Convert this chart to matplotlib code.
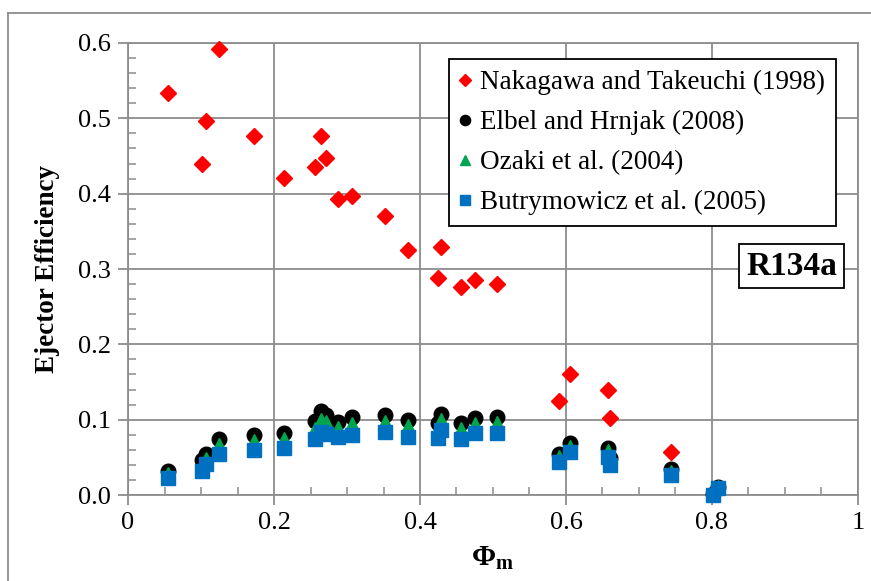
import matplotlib
matplotlib.use("Agg")
import matplotlib.pyplot as plt
from matplotlib.lines import Line2D
from matplotlib.ticker import MultipleLocator, FormatStrFormatter

plt.rcParams["font.family"] = ["Liberation Serif", "DejaVu Serif"]
plt.rcParams["mathtext.fontset"] = "custom"
plt.rcParams["mathtext.rm"] = "Liberation Serif"
plt.rcParams["mathtext.bf"] = "Liberation Serif:bold"

# Nakagawa and Takeuchi (1998)
nak_x = [0.055, 0.101, 0.107, 0.124, 0.173, 0.214, 0.256, 0.265, 0.271, 0.288,
         0.307, 0.352, 0.384, 0.425, 0.429, 0.456, 0.475, 0.505, 0.591, 0.606,
         0.658, 0.660, 0.744]
nak_y = [0.534, 0.440, 0.496, 0.592, 0.477, 0.421, 0.435, 0.476, 0.448, 0.393,
         0.397, 0.370, 0.325, 0.288, 0.329, 0.276, 0.286, 0.280, 0.125, 0.160,
         0.140, 0.102, 0.057]

# the three other data sets share the same phi_m values
phi_x = [0.055, 0.101, 0.107, 0.124, 0.173, 0.214, 0.256, 0.265, 0.271, 0.288,
         0.307, 0.352, 0.384, 0.424, 0.429, 0.456, 0.475, 0.505, 0.591, 0.606,
         0.658, 0.660, 0.744, 0.801, 0.808]
elbel_y = [0.032, 0.046, 0.054, 0.075, 0.080, 0.082, 0.098, 0.111, 0.106, 0.097,
           0.103, 0.106, 0.099, 0.095, 0.108, 0.095, 0.102, 0.104, 0.055, 0.069,
           0.063, 0.049, 0.034, 0.002, 0.011]
ozaki_y = [0.028, 0.040, 0.048, 0.066, 0.072, 0.074, 0.088, 0.100, 0.097, 0.089,
           0.094, 0.097, 0.091, 0.088, 0.099, 0.087, 0.094, 0.095, 0.050, 0.064,
           0.058, 0.045, 0.031, 0.001, 0.010]
butry_y = [0.023, 0.032, 0.041, 0.054, 0.060, 0.063, 0.074, 0.084, 0.081, 0.077,
           0.079, 0.083, 0.077, 0.076, 0.086, 0.074, 0.082, 0.082, 0.044, 0.057,
           0.051, 0.040, 0.027, 0.000, 0.009]

labels = ["Nakagawa and Takeuchi (1998)", "Elbel and Hrnjak (2008)",
          "Ozaki et al. (2004)", "Butrymowicz et al. (2005)"]

GRID = "#8c8c8c"

fig = plt.figure(figsize=(8.71, 5.81), dpi=100)
ax = fig.add_axes([0.147, 0.148, 0.838, 0.778])

ax.plot(nak_x, nak_y, ls="none", marker="D", ms=8.5, color="#ff0000",
        mec="#ff0000", label=labels[0], zorder=3, clip_on=False)
ax.plot(phi_x, elbel_y, ls="none", marker="o", ms=10.5, color="black",
        label=labels[1], zorder=3, clip_on=False)
ax.plot(phi_x, ozaki_y, ls="none", marker="^", ms=9.5, color="#00a550",
        label=labels[2], zorder=4, clip_on=False)
ax.plot(phi_x, butry_y, ls="none", marker="s", ms=9.5, color="#0070c0",
        label=labels[3], zorder=5, clip_on=False)

ax.set_xlim(0, 1)
ax.set_ylim(0, 0.6)
ax.xaxis.set_major_locator(MultipleLocator(0.2))
ax.xaxis.set_minor_locator(MultipleLocator(0.05))
ax.yaxis.set_major_locator(MultipleLocator(0.1))
ax.yaxis.set_minor_locator(MultipleLocator(0.02))
ax.yaxis.set_major_formatter(FormatStrFormatter("%.1f"))
ax.set_xticks([0, 0.2, 0.4, 0.6, 0.8, 1.0])
ax.set_xticklabels(["0", "0.2", "0.4", "0.6", "0.8", "1"])

ax.grid(True, which="major", color=GRID, lw=1.3)
ax.set_axisbelow(True)
for s in ax.spines.values():
    s.set_color(GRID)
    s.set_linewidth(1.3)
ax.tick_params(which="major", direction="out", length=7, width=1.3,
               color=GRID, labelsize=19, pad=5)
ax.tick_params(which="minor", direction="in", length=6, width=1.1, color=GRID)

ax.set_ylabel("Ejector Efficiency", fontsize=19.5, fontweight="bold", labelpad=13)
ax.set_xlabel(r"$\mathbf{\Phi_m}$", fontsize=21, labelpad=8)

leg = ax.legend(loc="upper left", bbox_to_anchor=(0.515, 0.898),
                bbox_transform=fig.transFigure, fontsize=19.5, frameon=True,
                fancybox=False, edgecolor="black", framealpha=1,
                handlelength=0.45, handletextpad=0.3, labelspacing=0.55,
                borderpad=0.4, borderaxespad=0, markerscale=0.7)
leg.get_frame().set_linewidth(1.3)

ax.text(0.961, 0.542, "R134a", transform=fig.transFigure, ha="right",
        va="center", fontsize=24, fontweight="bold",
        bbox=dict(boxstyle="square,pad=0.2", fc="white", ec="black", lw=1.3))

# outer chart-area border (left and top edges visible in the picture)
fig.add_artist(Line2D([0.009, 0.009], [0.0, 0.978], color=GRID, lw=1.3,
                      transform=fig.transFigure))
fig.add_artist(Line2D([0.009, 1.0], [0.978, 0.978], color=GRID, lw=1.3,
                      transform=fig.transFigure))

fig.savefig("out.png", dpi=100)
